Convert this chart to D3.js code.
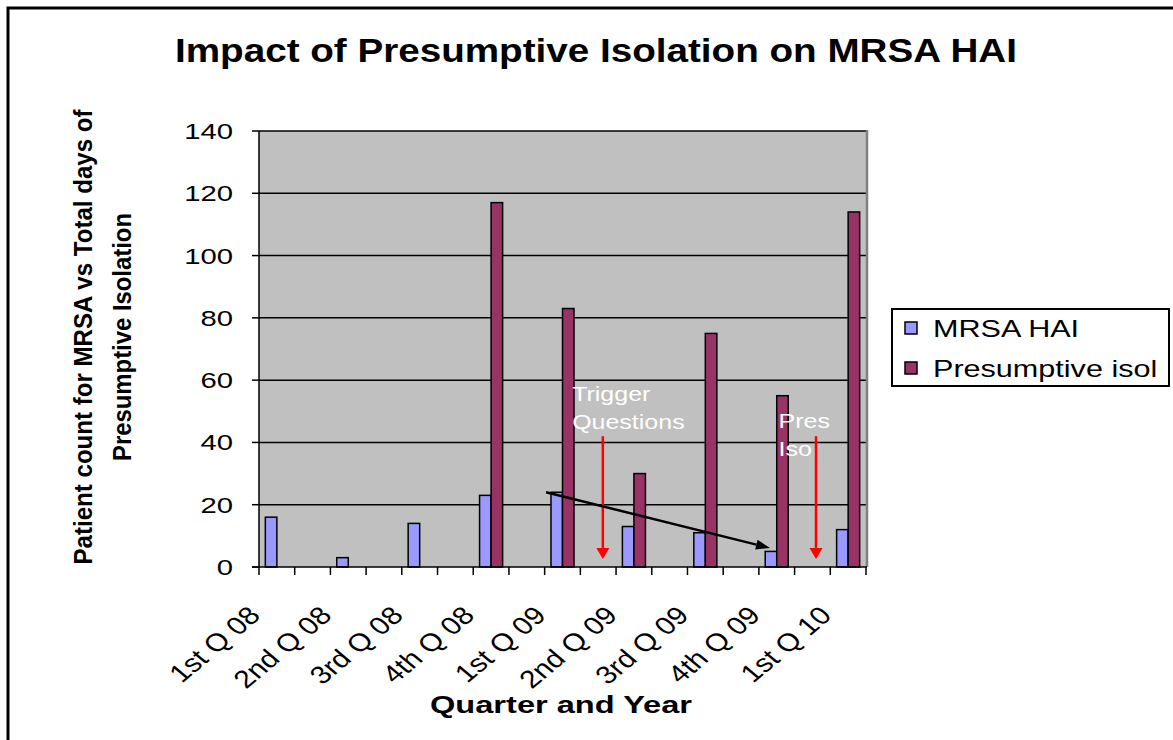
<!DOCTYPE html>
<html>
<head>
<meta charset="utf-8">
<script src="https://cdn.jsdelivr.net/npm/d3@7"></script>
<style>
  body { margin:0; background:#fff; }
  text { font-family: Arial, "Liberation Sans", sans-serif; }
</style>
</head>
<body>
<div id="chart"></div>
<script>
// quarters (every other slot is an unlabeled spacer category)
var categories = ["1st Q 08","","2nd Q 08","","3rd Q 08","","4th Q 08","","1st Q 09","",
                  "2nd Q 09","","3rd Q 09","","4th Q 09","","1st Q 10"];
var mrsaHai     = [16,null,3,null,14,null,23,null,24,null,13,null,11,null,5,null,12];
var presumptive = [0,null,0,null,0,null,117,null,83,null,30,null,75,null,55,null,114];
var seriesNames = ["MRSA HAI","Presumptive isol"];
var seriesColors = ["#9999FF","#993366"];
var yTicks = [0,20,40,60,80,100,120,140];

var width = 1173, height = 740;
var SX = 1.33; // horizontal stretch of the original text

var svg = d3.select("#chart").append("svg")
  .attr("width",width).attr("height",height);

// outer frame (open to the right/bottom like the source)
svg.append("rect").attr("x",8).attr("y",8).attr("width",1300).attr("height",900)
  .attr("fill","#fff").attr("stroke","#000").attr("stroke-width",3);

var x = d3.scaleBand().domain(d3.range(categories.length)).range([259,866]);
var sub = d3.scaleBand().domain([0,1]).range([0,x.bandwidth()]).paddingOuter(0.55);
var y = d3.scaleLinear().domain([0,140]).range([567,131]);
var xAt = function(pos) { return x.range()[0] + pos*x.step(); };

// plot area
svg.append("rect").attr("x",259).attr("y",131).attr("width",607).attr("height",436)
  .attr("fill","#C0C0C0");

// gridlines
svg.selectAll("line.grid").data(yTicks.filter(function(t){return t>0;}))
  .enter().append("line")
  .attr("x1",259).attr("x2",866)
  .attr("y1",function(d){return y(d);}).attr("y2",function(d){return y(d);})
  .attr("stroke","#000").attr("stroke-width",1.5);

// right border of plot
svg.append("line").attr("x1",867).attr("x2",867).attr("y1",130).attr("y2",567)
  .attr("stroke","#808080").attr("stroke-width",2.5);

// bars
var rows = [];
categories.forEach(function(c,i) {
  [mrsaHai[i],presumptive[i]].forEach(function(v,s) {
    if (v !== null) rows.push({i:i, s:s, v:v});
  });
});
svg.selectAll("rect.bar").data(rows).enter().append("rect")
  .attr("x",function(d){return x(d.i)+sub(d.s);})
  .attr("width",sub.bandwidth())
  .attr("y",function(d){return y(d.v);})
  .attr("height",function(d){return y(0)-y(d.v);})
  .attr("fill",function(d){return seriesColors[d.s];})
  .attr("stroke","#000").attr("stroke-width",1.5);

// y axis
var yAxis = svg.append("g");
yAxis.append("line").attr("x1",259).attr("x2",259).attr("y1",131).attr("y2",567)
  .attr("stroke","#000").attr("stroke-width",1.5);
yTicks.forEach(function(t) {
  yAxis.append("line").attr("x1",252).attr("x2",259).attr("y1",y(t)).attr("y2",y(t))
    .attr("stroke","#000").attr("stroke-width",1.5);
  yAxis.append("text")
    .attr("transform","translate(233,"+(y(t)+8)+") scale("+SX+",1)")
    .attr("text-anchor","end").attr("font-size",22).text(t);
});

// x axis
var xAxis = svg.append("g");
xAxis.append("line").attr("x1",252).attr("x2",867).attr("y1",567).attr("y2",567)
  .attr("stroke","#000").attr("stroke-width",1.5);
d3.range(categories.length+1).forEach(function(k) {
  xAxis.append("line").attr("x1",xAt(k)).attr("x2",xAt(k)).attr("y1",567).attr("y2",575)
    .attr("stroke","#000").attr("stroke-width",1.5);
});
categories.forEach(function(c,i) {
  if (!c) return;
  xAxis.append("text")
    .attr("transform","translate("+(x(i)+x.bandwidth()/2-15)+",617) scale(1.2,1) rotate(-45)")
    .attr("text-anchor","end").attr("font-size",25).text(c);
});

// titles
svg.append("text").attr("x",175).attr("y",62).attr("font-size",34).attr("font-weight","bold")
  .attr("textLength",842).attr("lengthAdjust","spacingAndGlyphs")
  .text("Impact of Presumptive Isolation on MRSA HAI");

svg.append("text").attr("x",430).attr("y",713).attr("font-size",24).attr("font-weight","bold")
  .attr("textLength",262).attr("lengthAdjust","spacingAndGlyphs")
  .text("Quarter and Year");

var yt = svg.append("g").attr("transform","translate(0,337) rotate(-90)");
yt.append("text").attr("x",0).attr("y",92).attr("text-anchor","middle")
  .attr("font-size",26).attr("font-weight","bold")
  .attr("textLength",455).attr("lengthAdjust","spacingAndGlyphs")
  .text("Patient count for MRSA vs Total days of");
yt.append("text").attr("x",0).attr("y",131).attr("text-anchor","middle")
  .attr("font-size",26).attr("font-weight","bold")
  .attr("textLength",248).attr("lengthAdjust","spacingAndGlyphs")
  .text("Presumptive Isolation");

// legend
var lg = svg.append("g");
lg.append("rect").attr("x",892).attr("y",309).attr("width",277).attr("height",77)
  .attr("fill","#fff").attr("stroke","#000").attr("stroke-width",2);
seriesNames.forEach(function(n,k) {
  lg.append("rect").attr("x",905).attr("y",322+k*40).attr("width",12).attr("height",12)
    .attr("fill",seriesColors[k]).attr("stroke","#000").attr("stroke-width",1.5);
  lg.append("text").attr("transform","translate(933,"+(337+k*40)+") scale("+SX+",1)")
    .attr("font-size",23).text(n);
});

// annotations
var anno = svg.append("g");
function note(px, lines, baseline) {
  lines.forEach(function(t,k) {
    anno.append("text").attr("transform","translate("+px+","+(baseline+k*28)+") scale(1.25,1)")
      .attr("font-size",20).attr("fill","#fff").text(t);
  });
}
note(xAt(8.77), ["Trigger","Questions"], 401);
note(xAt(14.55), ["Pres","Iso"], 428);

function arrow(pos1,v1,pos2,v2,color,headLen,headW) {
  var x1 = xAt(pos1), y1 = y(v1), x2 = xAt(pos2), y2 = y(v2);
  var a = Math.atan2(y2-y1, x2-x1);
  var bx = x2 - headLen*Math.cos(a), by = y2 - headLen*Math.sin(a);
  anno.append("line").attr("x1",x1).attr("y1",y1).attr("x2",bx).attr("y2",by)
    .attr("stroke",color).attr("stroke-width",2.5);
  var px = -Math.sin(a)*headW/2, py = Math.cos(a)*headW/2;
  anno.append("path")
    .attr("d","M"+x2+","+y2+"L"+(bx+px)+","+(by+py)+"L"+(bx-px)+","+(by-py)+"Z")
    .attr("fill",color);
}
arrow(9.63, 42, 9.63, 2.6, "#FF0000", 11, 13);
arrow(15.6, 42, 15.6, 2.6, "#FF0000", 11, 13);
arrow(8.04, 24, 14.31, 6.1, "#000", 14, 10);
</script>
</body>
</html>
